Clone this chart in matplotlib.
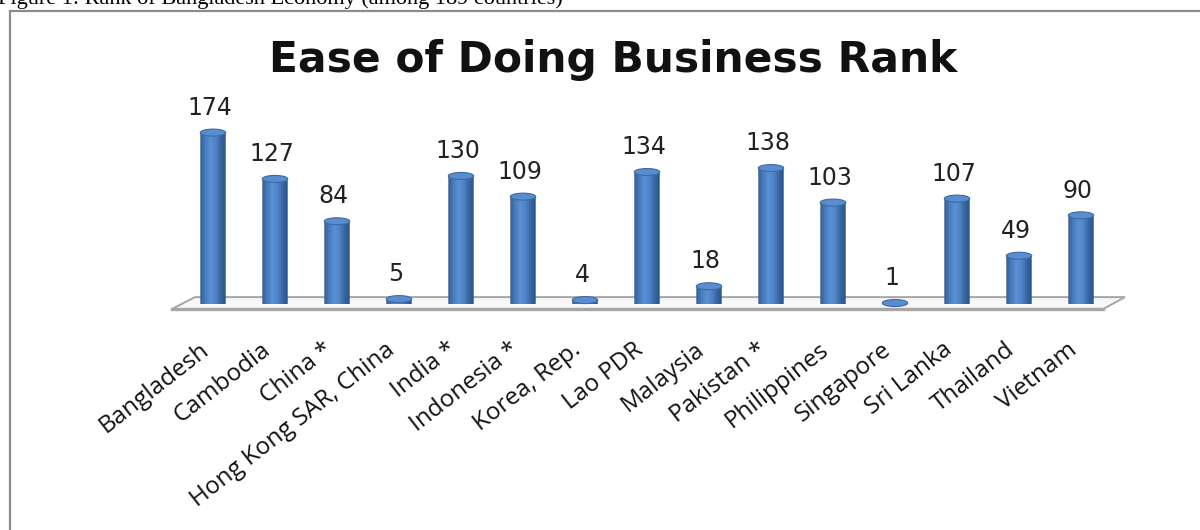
import numpy as np
import matplotlib
matplotlib.use("Agg")
import matplotlib.pyplot as plt
from matplotlib.patches import Ellipse, Polygon, PathPatch
from matplotlib.path import Path
from matplotlib.lines import Line2D
from matplotlib.colors import LinearSegmentedColormap

# ---- data ----
countries = ["Bangladesh", "Cambodia", "China *", "Hong Kong SAR, China", "India *",
             "Indonesia *", "Korea, Rep.", "Lao PDR", "Malaysia", "Pakistan *",
             "Philippines", "Singapore", "Sri Lanka", "Thailand", "Vietnam"]
ranks = [174, 127, 84, 5, 130, 109, 4, 134, 18, 138, 103, 1, 107, 49, 90]
title = "Ease of Doing Business Rank"
caption = "Figure 1: Rank of Bangladesh Economy (among 189 countries)"

W, H, DPI = 1200, 530, 100
fig = plt.figure(figsize=(W / DPI, H / DPI), dpi=DPI)
fig.patch.set_facecolor("white")

# axes placement in pixels
px_left, px_right = 182, 1112
px_y0, px_ytop = 304, 107
ymax = 200
ax = fig.add_axes([px_left / W, (H - px_y0) / H, (px_right - px_left) / W, (px_y0 - px_ytop) / H])
ax.set_xlim(-0.5, len(countries) - 0.5)
ax.set_ylim(0, ymax)
ax.axis("off")

ppu = (px_y0 - px_ytop) / ymax  # pixels per data unit (y)
bw = 0.41                        # bar width in category units
eh = 7 / ppu                     # ellipse height in data units

cmap = LinearSegmentedColormap.from_list(
    "cyl", ["#33609a", "#477bbd", "#5a90d5", "#4f84c8", "#3a679f", "#2c5287"])

# floor
n = len(countries)
floor = Polygon([(-0.66, -5), (-0.29, 7), (n - 1 + 0.71, 7), (n - 1 + 0.36, -5)],
                closed=True, facecolor="#f7f7f7", edgecolor="#a6a6a6", lw=1.4,
                clip_on=False, zorder=1)
ax.add_patch(floor)
ax.add_line(Line2D([-0.66, n - 1 + 0.36], [-5, -5], color="#a6a6a6", lw=2.4,
                   clip_on=False, zorder=1))

grad = np.linspace(0, 1, 64).reshape(1, -1)
for i, v in enumerate(ranks):
    x0, x1 = i - bw / 2, i + bw / 2
    t = np.linspace(np.pi, 2 * np.pi, 40)
    bottom = np.column_stack([i + bw / 2 * np.cos(t), eh / 2 * np.sin(t)])
    verts = np.vstack([[[x0, v]], bottom, [[x1, v]], [[x0, v]]])
    body = PathPatch(Path(verts), facecolor="none", edgecolor="none", clip_on=False)
    ax.add_patch(body)
    im = ax.imshow(grad, cmap=cmap, aspect="auto", extent=[x0, x1, -eh / 2, v],
                   origin="lower", zorder=3)
    im.set_clip_path(body)
    top = Ellipse((i, v), bw, eh, facecolor="#5a8cd0", edgecolor="#3d6aa6",
                  lw=0.8, zorder=4, clip_on=False)
    ax.add_patch(top)
    ax.text(i - 0.05, v + 13, str(v), ha="center", va="bottom", fontsize=17,
            family="DejaVu Sans", color="#222222", zorder=5)

ax.set_xlim(-0.5, len(countries) - 0.5)
ax.set_ylim(0, ymax)

# category labels
for i, c in enumerate(countries):
    ax.annotate(c, xy=(i, 0), xycoords="data", xytext=(-7, -43),
                textcoords="offset pixels", rotation=38, ha="right", va="center",
                rotation_mode="anchor", fontsize=17.5, family="Open Sans", color="#111111",
                annotation_clip=False)

# title
fig.text(613 / W, 1 - 60 / H, title, ha="center", va="center", fontsize=30.5,
         fontweight="bold", family="DejaVu Sans", color="#111111")

# caption (partly cut at the top, like the source)
fig.text(-0.002, 1 - 4 / H, caption, ha="left", va="baseline", fontsize=16,
         family="Liberation Serif", color="black")

# chart border (left and top visible)
fig.add_artist(Line2D([10 / W, 10 / W], [0, 1 - 11 / H], transform=fig.transFigure,
                      color="#8c8c8c", lw=1.6))
fig.add_artist(Line2D([10 / W, 1], [1 - 11 / H, 1 - 11 / H], transform=fig.transFigure,
                      color="#8c8c8c", lw=1.6))

fig.savefig("out.png", dpi=DPI)
